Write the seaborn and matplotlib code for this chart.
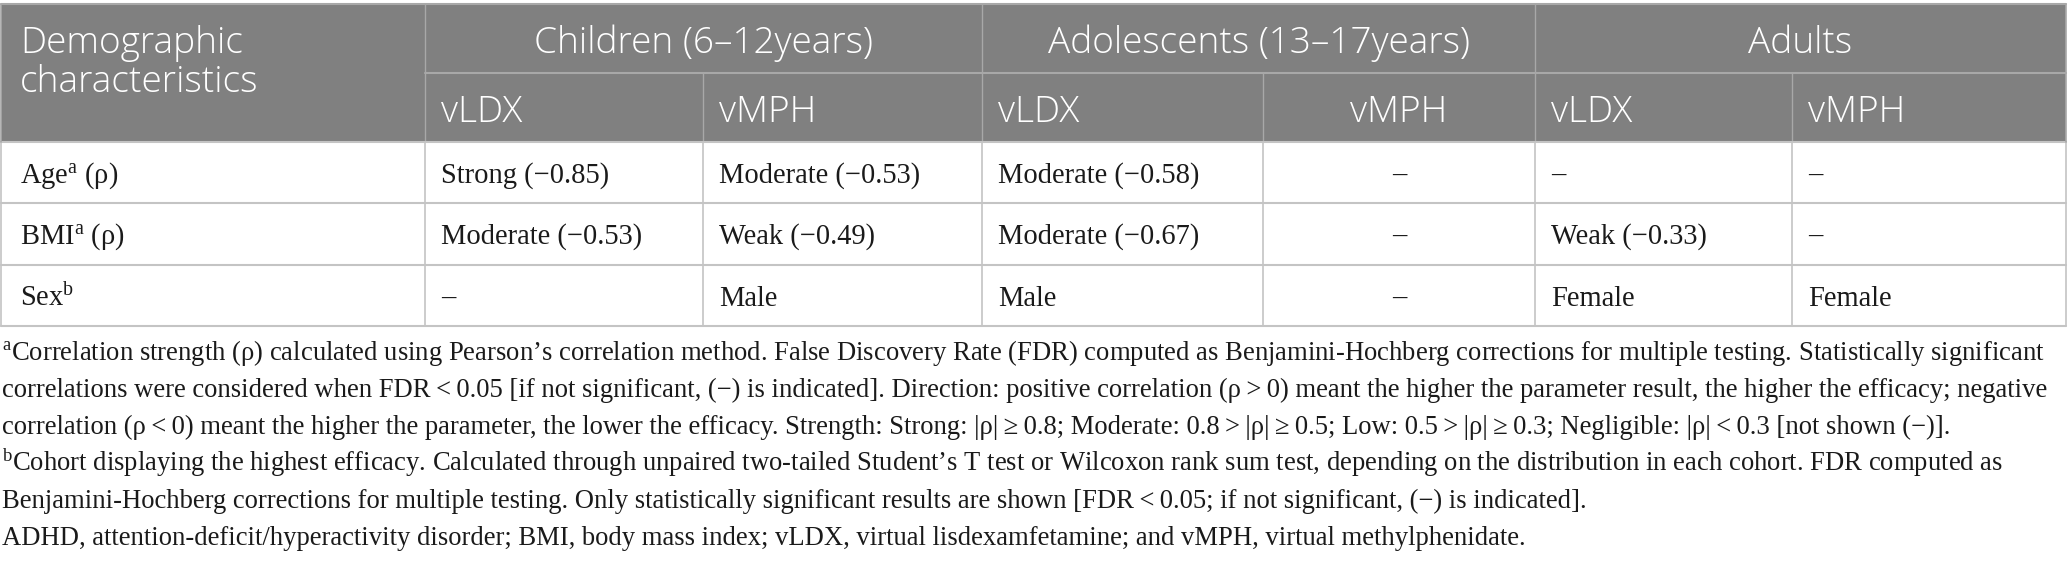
import matplotlib
matplotlib.use("Agg")
import matplotlib.pyplot as plt
import seaborn as sns

sns.set_theme(style="white")
plt.rcParams['font.family'] = ['Liberation Serif', 'DejaVu Serif']
plt.rcParams['mathtext.fontset'] = 'custom'
plt.rcParams['mathtext.rm'] = 'Liberation Serif'
plt.rcParams['mathtext.it'] = 'Liberation Serif:italic'

# ---------------- data ----------------
group_headers = ["Children (6\u201312years)", "Adolescents (13\u201317years)", "Adults"]
sub_headers = ["vLDX", "vMPH", "vLDX", "vMPH", "vLDX", "vMPH"]
row_labels = ["Age$^{\\mathrm{a}}$ (\u03c1)", "BMI$^{\\mathrm{a}}$ (\u03c1)", "Sex$^{\\mathrm{b}}$"]
age_row = ["Strong (\u22120.85)", "Moderate (\u22120.53)", "Moderate (\u22120.58)", "\u2013", "\u2013", "\u2013"]
bmi_row = ["Moderate (\u22120.53)", "Weak (\u22120.49)", "Moderate (\u22120.67)", "\u2013", "Weak (\u22120.33)", "\u2013"]
sex_row = ["\u2013", "Male", "Male", "\u2013", "Female", "Female"]
footnotes = [
    "$^{\\mathrm{a}}$Correlation strength (\u03c1) calculated using Pearson\u2019s correlation method. False Discovery Rate (FDR) computed as Benjamini-Hochberg corrections for multiple testing. Statistically significant",
    "correlations were considered when FDR\u2009<\u20090.05 [if not significant, (\u2212) is indicated]. Direction: positive correlation (\u03c1\u2009>\u20090) meant the higher the parameter result, the higher the efficacy; negative",
    "correlation (\u03c1\u2009<\u20090) meant the higher the parameter, the lower the efficacy. Strength: Strong: |\u03c1|\u2009\u2265\u20090.8; Moderate: 0.8\u2009>\u2009|\u03c1|\u2009\u2265\u20090.5; Low: 0.5\u2009>\u2009|\u03c1|\u2009\u2265\u20090.3; Negligible: |\u03c1|\u2009<\u20090.3 [not shown (\u2212)].",
    "$^{\\mathrm{b}}$Cohort displaying the highest efficacy. Calculated through unpaired two-tailed Student\u2019s T test or Wilcoxon rank sum test, depending on the distribution in each cohort. FDR computed as",
    "Benjamini-Hochberg corrections for multiple testing. Only statistically significant results are shown [FDR\u2009<\u20090.05; if not significant, (\u2212) is indicated].",
    "ADHD, attention-deficit/hyperactivity disorder; BMI, body mass index; vLDX, virtual lisdexamfetamine; and vMPH, virtual methylphenidate.",
]
body_rows = [age_row, bmi_row, sex_row]
# cells centred instead of left-aligned (Adolescents vMPH column)
centered_cols = [3]

# ---------------- layout (pixels) ----------------
W, H = 2068, 566
col_edges = [1, 425, 703, 982, 1263, 1535, 1792, 2066]
y_top, y_sub, y_head = 4, 73, 142
row_edges = [142, 203, 265, 326]
head_base1, head_base2, sub_base = 53, 92, 122
foot_base = [360, 397, 434, 471, 508, 545]
HEAD_BG = "#808080"
HEAD_LINE = "#a8a8a8"
BODY_LINE = "#c4c4c4"
TXT = "#1a1a1a"
pad = 16
first_x = 20

fig = plt.figure(figsize=(W / 100, H / 100), dpi=100)
ax = fig.add_axes([0, 0, 1, 1])
ax.set_xlim(0, W)
ax.set_ylim(H, 0)
ax.axis("off")

def px2pt(p):
    return p * 72 / 100

head_fs = px2pt(37)
body_fs = px2pt(28.5)
head_kw = dict(color="white", fontsize=head_fs, family=["Open Sans", "DejaVu Sans"], fontweight="light",
               va="baseline")

# header background
ax.add_patch(plt.Rectangle((col_edges[0], y_top), col_edges[-1] - col_edges[0], y_head - y_top,
                           facecolor=HEAD_BG, edgecolor="none", zorder=0))
# header lines
ax.plot([col_edges[0], col_edges[-1]], [y_top, y_top], color=HEAD_LINE, lw=1.5, zorder=1)
ax.plot([col_edges[1], col_edges[-1]], [y_sub, y_sub], color=HEAD_LINE, lw=1.5, zorder=1)
for x in [col_edges[1], col_edges[3], col_edges[5]]:
    ax.plot([x, x], [y_top, y_sub], color=HEAD_LINE, lw=1, zorder=1)
for x in col_edges[1:-1]:
    ax.plot([x, x], [y_sub, y_head], color=HEAD_LINE, lw=1, zorder=1)
ax.plot([col_edges[0], col_edges[0]], [y_top, y_head], color=HEAD_LINE, lw=1.2)
ax.plot([col_edges[-1], col_edges[-1]], [y_top, y_head], color=HEAD_LINE, lw=1.2)

# body lines
for y in row_edges:
    ax.plot([col_edges[0], col_edges[-1]], [y, y], color=BODY_LINE, lw=1.5, zorder=1)
for x in col_edges:
    ax.plot([x, x], [row_edges[0], row_edges[-1]], color=BODY_LINE, lw=1.2, zorder=1)

# header text
ax.text(first_x, head_base1, "Demographic", ha="left", **head_kw)
ax.text(first_x, head_base2, "characteristics", ha="left", **head_kw)
for g, name in enumerate(group_headers):
    xc = (col_edges[1 + 2 * g] + col_edges[3 + 2 * g]) / 2
    ax.text(xc, head_base1, name, ha="center", **head_kw)
for j, name in enumerate(sub_headers):
    if j in centered_cols:
        ax.text((col_edges[j + 1] + col_edges[j + 2]) / 2, sub_base, name, ha="center", **head_kw)
    else:
        ax.text(col_edges[j + 1] + pad, sub_base, name, ha="left", **head_kw)

# body text
for i, (lab, vals) in enumerate(zip(row_labels, body_rows)):
    yb = (row_edges[i] + row_edges[i + 1]) / 2 + 10
    ax.text(first_x, yb, lab, color=TXT, fontsize=body_fs, va="baseline", ha="left")
    for j, v in enumerate(vals):
        if j in centered_cols:
            ax.text((col_edges[j + 1] + col_edges[j + 2]) / 2, yb, v, color=TXT,
                    fontsize=body_fs, va="baseline", ha="center")
        else:
            ax.text(col_edges[j + 1] + pad, yb, v, color=TXT, fontsize=body_fs, va="baseline", ha="left")

# footnotes: fit first line width to reference width
fig.canvas.draw()
renderer = fig.canvas.get_renderer()
trial = ax.text(0, 0, footnotes[0], fontsize=10)
w10 = trial.get_window_extent(renderer).width
trial.remove()
foot_fs = 10 * 2044 / w10
for y, t in zip(foot_base, footnotes):
    ax.text(2, y, t, color=TXT, fontsize=foot_fs, va="baseline", ha="left")

fig.savefig("out.png", dpi=100, facecolor="white")
